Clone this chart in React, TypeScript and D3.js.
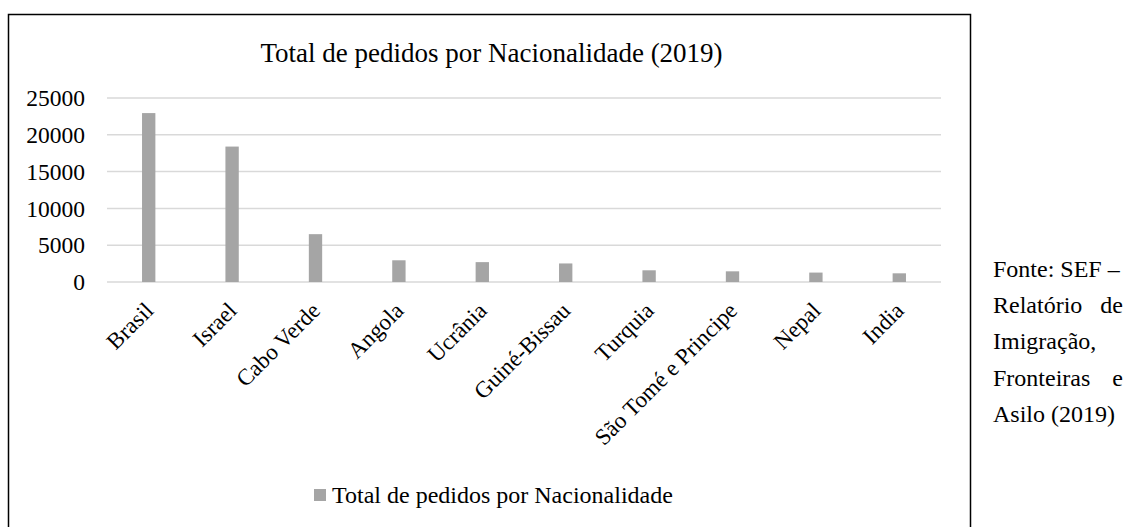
import React, { useRef, useEffect } from 'react'
import { select, scaleBand, scaleLinear } from 'd3'

const categories = ['Brasil', 'Israel', 'Cabo Verde', 'Angola', 'Ucrânia', 'Guiné-Bissau', 'Turquia', 'São Tomé e Principe', 'Nepal', 'India']
const pedidos = [22950, 18400, 6500, 2950, 2700, 2520, 1590, 1450, 1280, 1180]
const yTicks = [0, 5000, 10000, 15000, 20000, 25000]
const title = 'Total de pedidos por Nacionalidade (2019)'
const seriesName = 'Total de pedidos por Nacionalidade'
// note lines at the right, justified as in the source document
const noteLines = [['Fonte:', 'SEF', '–'], ['Relatório', 'de'], ['Imigração,'], ['Fronteiras', 'e'], ['Asilo', '(2019)']]

const W = 1127
const H = 527
const FONT = 'Liberation Serif'

export default function App () {
  const ref = useRef<SVGSVGElement>(null)

  useEffect(() => {
    if (ref.current === null) return
    const svg = select(ref.current)
    svg.selectAll('*').remove()
    const root = svg.append('g').attr('font-family', FONT)

    const left = 107, right = 941, top = 98, bottom = 282

    const x = scaleBand<string>().domain(categories).range([left, right])
      .paddingInner(0.84).paddingOuter(0.42)
    const y = scaleLinear().domain([0, 25000]).range([bottom, top])

    // frame
    root.append('rect')
      .attr('x', 8.5).attr('y', 14.5)
      .attr('width', 962).attr('height', 530)
      .attr('fill', 'none').attr('stroke', '#000').attr('stroke-width', 1.5)

    root.append('text')
      .attr('x', 491.5).attr('y', 62)
      .attr('text-anchor', 'middle')
      .attr('font-size', 27)
      .text(title)

    // grid
    root.append('g').selectAll('line').data(yTicks).enter().append('line')
      .attr('x1', left).attr('x2', right)
      .attr('y1', d => y(d)).attr('y2', d => y(d))
      .attr('stroke', '#d9d9d9').attr('stroke-width', 1.5)

    root.append('g').selectAll('text').data(yTicks).enter().append('text')
      .attr('x', 85).attr('y', d => y(d))
      .attr('dy', '0.35em')
      .attr('text-anchor', 'end')
      .attr('font-size', 23.5)
      .text(d => String(d))

    // bars
    root.append('g').selectAll('rect').data(pedidos).enter().append('rect')
      .attr('x', (d, i) => x(categories[i]) as number)
      .attr('width', x.bandwidth())
      .attr('y', d => y(d))
      .attr('height', d => bottom - y(d))
      .attr('fill', '#a5a5a5')

    // category labels
    root.append('g').selectAll('text').data(categories).enter().append('text')
      .attr('transform', d => `translate(${(x(d) as number) + x.bandwidth() / 2 + 6},${bottom + 30}) rotate(-45)`)
      .attr('text-anchor', 'end')
      .attr('font-size', 23)
      .text(d => d)

    // legend
    root.append('rect')
      .attr('x', 314).attr('y', 489).attr('width', 12).attr('height', 12)
      .attr('fill', '#a5a5a5')
    root.append('text')
      .attr('x', 332).attr('y', 503)
      .attr('font-size', 24)
      .text(seriesName)

    // source note
    const nl = 993, nr = 1123
    const note = root.append('g').attr('font-size', 24)
    noteLines.forEach((words, i) => {
      const yy = 277 + i * 36.2
      const justify = i < noteLines.length - 1 && words.length > 1 && i !== 0
      if (justify) {
        note.append('text').attr('x', nl).attr('y', yy).text(words[0])
        note.append('text').attr('x', nr).attr('y', yy).attr('text-anchor', 'end').text(words[words.length - 1])
      } else {
        note.append('text').attr('x', nl).attr('y', yy).text(words.join(' '))
      }
    })
  }, [])

  return (
    <svg ref={ref} width={W} height={H}
      style={{ position: 'absolute', left: 0, top: 0, background: '#fff' }} />
  )
}
